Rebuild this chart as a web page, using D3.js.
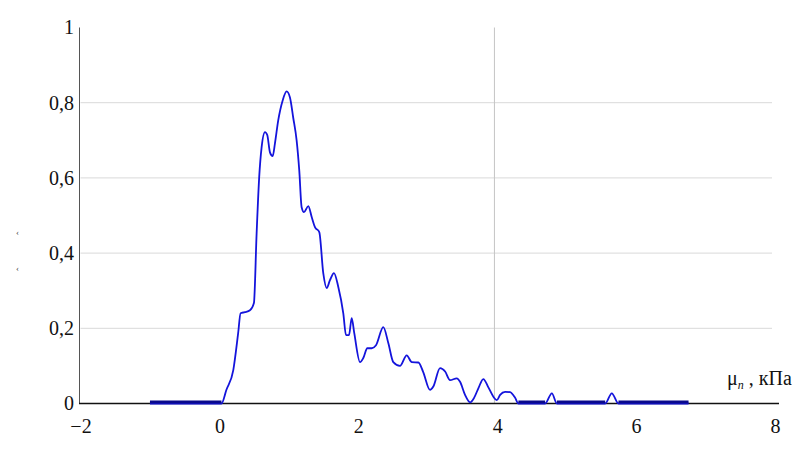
<html lang="ru">
<head>
  <meta charset="UTF-8"/>
  <title>μn, кПа</title>
  <script src="https://d3js.org/d3.v7.min.js"></script>
  <style>
    body { margin: 0; background: #fff; }
    svg text { font-family: "Liberation Serif", "Times New Roman", "DejaVu Serif", serif !important; }
  </style>
</head>
<body>
<svg id="chart" width="802" height="468"></svg>
<script>
// curve
const xs = [-1, 0.03, 0.10, 0.20, 0.27, 0.305, 0.367, 0.44, 0.497, 0.536, 0.573, 0.608, 0.656, 0.689, 0.728,
  0.767, 0.80, 0.847, 0.911, 0.968, 1.016, 1.063, 1.112, 1.15, 1.184, 1.218, 1.28, 1.329, 1.376, 1.438,
  1.496, 1.545, 1.592, 1.65, 1.712, 1.784, 1.823, 1.866, 1.905, 1.942, 2.025, 2.072, 2.13, 2.193, 2.255,
  2.36, 2.432, 2.504, 2.60, 2.697, 2.77, 2.865, 2.932, 3.033, 3.08, 3.177, 3.25, 3.321, 3.418, 3.465,
  3.537, 3.61, 3.667, 3.73, 3.80, 3.873, 3.945, 3.994, 4.042, 4.114, 4.186, 4.258, 4.305, 4.69, 4.787,
  4.86, 5.555, 5.65, 5.746, 6.755];
const ys = [0, 0, 0.036, 0.089, 0.187, 0.24, 0.243, 0.248, 0.267, 0.453, 0.602, 0.682, 0.722, 0.714, 0.668,
  0.658, 0.692, 0.753, 0.806, 0.83, 0.814, 0.76, 0.70, 0.62, 0.522, 0.509, 0.525, 0.496, 0.469, 0.456,
  0.346, 0.307, 0.328, 0.347, 0.31, 0.24, 0.182, 0.182, 0.227, 0.187, 0.11, 0.121, 0.147, 0.147, 0.155,
  0.203, 0.161, 0.11, 0.10, 0.128, 0.11, 0.109, 0.085, 0.036, 0.045, 0.094, 0.085, 0.062, 0.067, 0.058,
  0.023, 0.003, 0.015, 0.041, 0.065, 0.043, 0.018, 0.009, 0.023, 0.031, 0.03, 0.015, 0, 0, 0.027,
  0, 0, 0.027, 0, 0];
const xTicks = [-2, 0, 2, 4, 6, 8];
const yTicks = [0, 0.2, 0.4, 0.6, 0.8, 1];
const markerX = 3.96;

const serif = "Liberation Serif, Times New Roman, DejaVu Serif, serif";
const svg = d3.select("#chart").attr("font-family", serif);
const x = d3.scaleLinear().domain([-2, 8]).range([80.5, 775]);
const y = d3.scaleLinear().domain([0, 1]).range([403.5, 27.5]);
const ru = d3.formatLocale({decimal: ",", thousands: " ", grouping: [3], currency: ["", ""], minus: "\u2212"});
const yFmt = d => d === 0 || d === 1 ? String(d) : ru.format(".1f")(d);

// horizontal grid
svg.append("g").selectAll("line")
  .data(yTicks.filter(d => d > 0 && d < 1))
  .join("line")
  .attr("x1", x(-2)).attr("x2", 772)
  .attr("y1", d => y(d)).attr("y2", d => y(d))
  .attr("stroke", "#d9d9d9").attr("stroke-width", 1);

// vertical marker line
svg.append("line")
  .attr("x1", x(markerX)).attr("x2", x(markerX))
  .attr("y1", y(1)).attr("y2", y(0))
  .attr("stroke", "#c4c4c4").attr("stroke-width", 1);

// axes
const xAxis = svg.append("g")
  .attr("transform", `translate(0,${y(0)})`)
  .call(d3.axisBottom(x).tickValues(xTicks).tickSize(0).tickPadding(15).tickFormat(ru.format("d")))
  .attr("font-family", serif).attr("font-size", 20);
xAxis.select(".domain").remove();
xAxis.selectAll("text").attr("fill", "#111");

const yAxis = svg.append("g")
  .attr("transform", `translate(74,0)`)
  .call(d3.axisLeft(y).tickValues(yTicks).tickSize(0).tickPadding(0).tickFormat(yFmt))
  .attr("font-family", serif).attr("font-size", 20);
yAxis.select(".domain").remove();
yAxis.selectAll("text").attr("fill", "#111");

svg.append("line")
  .attr("x1", 79.5).attr("x2", 79.5).attr("y1", y(1)).attr("y2", y(0))
  .attr("stroke", "#555").attr("stroke-width", 1);
svg.append("line")
  .attr("x1", 79).attr("x2", 779).attr("y1", y(0)).attr("y2", y(0))
  .attr("stroke", "#111").attr("stroke-width", 1.5);

// curve
const pts = xs.map((d, i) => [d, ys[i]]);
const line = d3.line().x(d => x(d[0])).y(d => y(d[1])).curve(d3.curveMonotoneX);
svg.append("path")
  .attr("d", line(pts))
  .attr("fill", "none").attr("stroke", "#1414dc").attr("stroke-width", 1.8);

// zero runs drawn heavier, as in the original
const runs = [];
for (let i = 0; i < pts.length - 1; i++) {
  if (pts[i][1] === 0 && pts[i + 1][1] === 0) runs.push([pts[i], pts[i + 1]]);
}
svg.append("g").selectAll("line")
  .data(runs)
  .join("line")
  .attr("x1", d => x(d[0][0])).attr("x2", d => x(d[1][0]))
  .attr("y1", y(0) - 1.5).attr("y2", y(0) - 1.5)
  .attr("stroke", "#0a0a8c").attr("stroke-width", 3);

// axis title
const t = svg.append("text").attr("x", 727).attr("y", 385).attr("font-size", 20).attr("fill", "#111");
t.append("tspan").text("μ");
t.append("tspan").attr("font-size", 12).attr("font-style", "italic").attr("dy", 4).text("n");
t.append("tspan").attr("dy", -4).text(" , кПа");

// stray marks at left edge
svg.append("g").selectAll("text")
  .data([232, 268])
  .join("text")
  .attr("x", 16).attr("y", d => d + 3)
  .attr("font-size", 9).attr("fill", "#444")
  .text("‹");
</script>
</body>
</html>
